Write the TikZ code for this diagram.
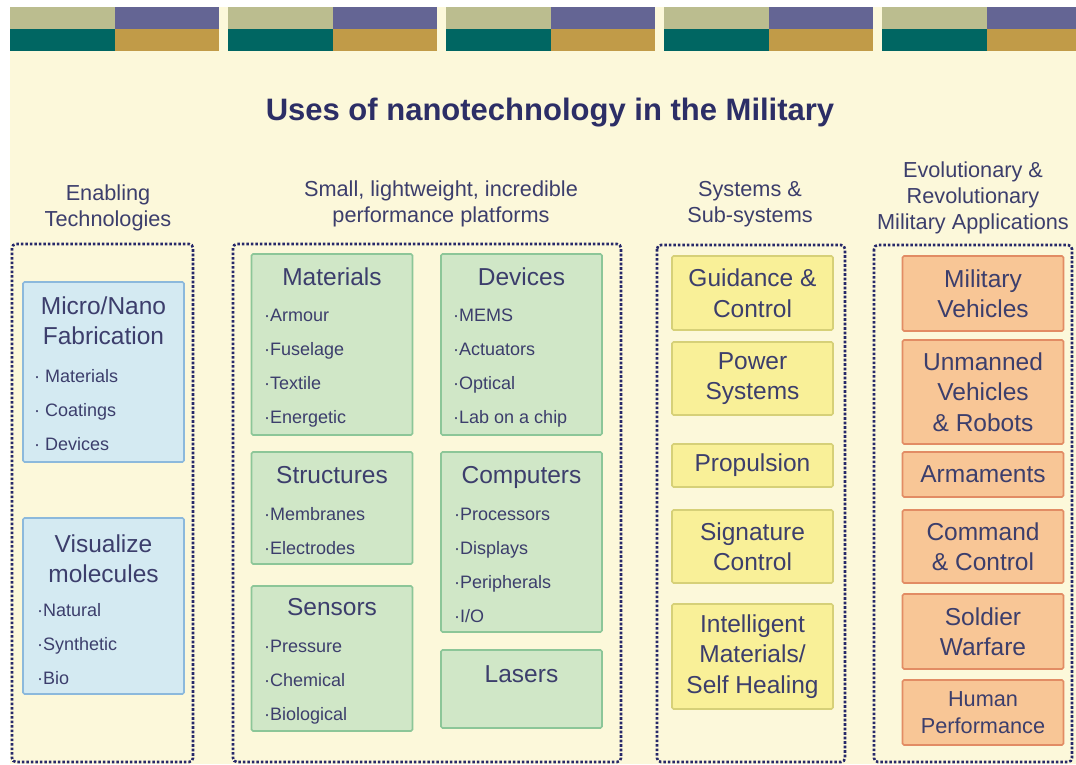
\documentclass[tikz,border=0pt]{standalone}
\usepackage{fontspec}
\setmainfont{Liberation Sans}
\usetikzlibrary{positioning}

\definecolor{cream}{RGB}{252,248,218}
\definecolor{khaki}{RGB}{187,189,143}
\definecolor{plum}{RGB}{100,101,148}
\definecolor{teal}{RGB}{0,102,98}
\definecolor{gold}{RGB}{193,155,72}
\definecolor{ink}{RGB}{60,62,108}
\definecolor{titleink}{RGB}{44,46,102}
\definecolor{frameblue}{RGB}{38,40,105}
\definecolor{bluefill}{RGB}{212,234,242}
\definecolor{blueline}{RGB}{140,185,220}
\definecolor{greenfill}{RGB}{208,231,199}
\definecolor{greenline}{RGB}{140,198,152}
\definecolor{yellowfill}{RGB}{249,240,152}
\definecolor{yellowline}{RGB}{214,208,120}
\definecolor{orangefill}{RGB}{248,198,150}
\definecolor{orangeline}{RGB}{226,140,100}

\begin{document}
\begin{tikzpicture}[x=1pt, y=-1pt,
    every node/.style={text=ink, inner sep=0pt},
    heading/.style={font=\fontsize{21.7}{26}\selectfont, align=center, anchor=north},
    group/.style={draw=frameblue, line width=2.6pt, dash pattern=on 2.6pt off 1.9pt, rounded corners=4pt},
    box/.style={line width=1.6pt, rounded corners=1.5pt, minimum width=161pt, align=center,
                font=\fontsize{24.5}{30.5}\selectfont},
    techbox/.style={box, draw=blueline, fill=bluefill},
    platbox/.style={box, draw=greenline, fill=greenfill},
    sysbox/.style={box, draw=yellowline, fill=yellowfill},
    appbox/.style={box, draw=orangeline, fill=orangefill},
    boxhead/.style={font=\fontsize{24.5}{30.5}\selectfont, align=center, anchor=north},
    item/.style={font=\fontsize{18}{20}\selectfont, anchor=base west}]

  \useasboundingbox (0,0) rectangle (1076,764);
  \fill[cream] (10,7) rectangle (1076,764);

  % colour strip along the top
  \foreach \x in {10,228,446,664,882} {
    \fill[khaki] (\x,7) rectangle +(105,22);
    \fill[plum] ({\x+105},7) rectangle +(104,22);
    \fill[teal] (\x,29) rectangle +(105,22);
    \fill[gold] ({\x+105},29) rectangle +(104,22);
  }

  \node[font=\fontsize{31}{36}\selectfont\bfseries, text=titleink, anchor=base] (title) at (550,120)
    {Uses of nanotechnology in the Military};

  \node[heading] (h-tech) at (108,185) {Enabling\\Technologies};
  \node[heading] (h-plat) at (441,181) {Small, lightweight, incredible\\performance platforms};
  \node[heading] (h-sys) at (750,181) {Systems \&\\Sub-systems};
  \node[heading] (h-app) at (973,162) {Evolutionary \&\\Revolutionary\\Military Applications};

  \draw[group] (12,244) rectangle (193,762);
  \draw[group] (233,244) rectangle (621,762);
  \draw[group] (657,245) rectangle (845,762);
  \draw[group] (874,245) rectangle (1072,762);

  % enabling technologies
  \node[techbox, minimum height=180pt] (fab) at (103.5,372) {};
  \node[boxhead] (fab-t) [below=15pt of fab.north] {Micro/Nano\\Fabrication};
  \foreach \t [count=\i] in {Materials,Coatings,Devices}
    \node[item] (fab-\i) at (34,{382+34*(\i-1)}) {· \t};

  \node[techbox, minimum height=176pt] (vis) at (103.5,606) {};
  \node[boxhead] (vis-t) [below=17pt of vis.north] {Visualize\\molecules};
  \foreach \t [count=\i] in {Natural,Synthetic,Bio}
    \node[item] (vis-\i) at (37,{616+34*(\i-1)}) {·\t};

  % platforms
  \node[platbox, minimum height=181pt] (mat) at (332,344.5) {};
  \node[boxhead] (mat-t) [below=14pt of mat.north] {Materials};
  \foreach \t [count=\i] in {Armour,Fuselage,Textile,Energetic}
    \node[item] (mat-\i) at (264,{321+34*(\i-1)}) {·\t};

  \node[platbox, minimum height=181pt] (dev) at (521.5,344.5) {};
  \node[boxhead] (dev-t) [below=14pt of dev.north] {Devices};
  \foreach \t [count=\i] in {MEMS,Actuators,Optical,Lab on a chip}
    \node[item] (dev-\i) at (453,{321+34*(\i-1)}) {·\t};

  \node[platbox, minimum height=112pt] (str) at (332,508) {};
  \node[boxhead] (str-t) [below=15pt of str.north] {Structures};
  \foreach \t [count=\i] in {Membranes,Electrodes}
    \node[item] (str-\i) at (264,{520+34*(\i-1)}) {·\t};

  \node[platbox, minimum height=180pt] (cmp) at (521.5,542) {};
  \node[boxhead] (cmp-t) [below=15pt of cmp.north] {Computers};
  \foreach \t [count=\i] in {Processors,Displays,Peripherals,I/O}
    \node[item] (cmp-\i) at (454,{520+34*(\i-1)}) {·\t};

  \node[platbox, minimum height=145pt] (sen) at (332,658.5) {};
  \node[boxhead] (sen-t) [below=13pt of sen.north] {Sensors};
  \foreach \t [count=\i] in {Pressure,Chemical,Biological}
    \node[item] (sen-\i) at (264,{652+34*(\i-1)}) {·\t};

  \node[platbox, minimum height=78pt] (las) at (521.5,689) {};
  \node[boxhead] (las-t) [below=16pt of las.north] {Lasers};

  % systems and sub-systems
  \node[sysbox, minimum height=74pt] (guid) at (752.5,293) {Guidance \&\\Control};
  \node[sysbox, minimum height=73pt] (pow) at (752.5,378.5) {Power\\Systems};
  \node[sysbox, minimum height=43pt] (prop) at (752.5,465.5) {Propulsion};
  \node[sysbox, minimum height=73pt] (sig) at (752.5,546.5) {Signature\\Control};
  \node[sysbox, minimum height=105pt] (intel) at (752.5,656.5) {Intelligent\\Materials/\\Self Healing};

  % military applications
  \node[appbox, minimum height=75pt] (mil) at (983,293.5) {Military\\Vehicles};
  \node[appbox, minimum height=104pt] (unm) at (983,392) {Unmanned\\Vehicles\\\& Robots};
  \node[appbox, minimum height=45pt] (arm) at (983,474.5) {Armaments};
  \node[appbox, minimum height=73pt] (cmd) at (983,546.5) {Command\\\& Control};
  \node[appbox, minimum height=75pt] (sol) at (983,631.5) {Soldier\\Warfare};
  \node[appbox, minimum height=65pt, font=\fontsize{21.7}{27}\selectfont] (hum) at (983,712.5) {Human\\Performance};

\end{tikzpicture}
\end{document}
